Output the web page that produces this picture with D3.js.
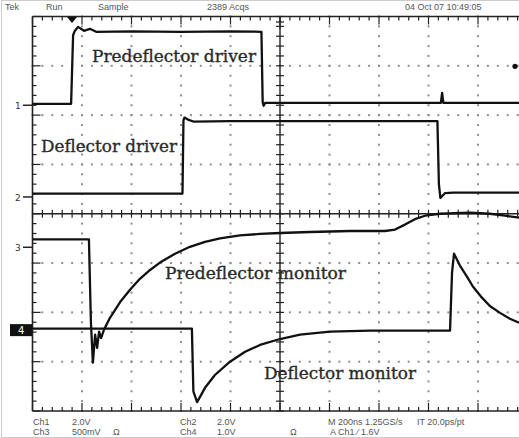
<!DOCTYPE html>
<html>
<head>
<meta charset="utf-8">
<script src="https://cdn.jsdelivr.net/npm/d3@7"></script>
<style>
  body { margin: 0; background: #fff; }
  svg { display: block; }
</style>
</head>
<body>
<svg width="519" height="438"></svg>
<script>
// time in ns (200 ns/div), level in screen divisions from centre
var ch1Time = [-1000, -844, -836, -830, -816, -792, -768, -743, -600, -400, -200, -75, -70, -66, -60, 0, 300, 650, 655, 660, 665, 966];
var ch1Level = [2.23, 2.23, 3.62, 3.70, 3.79, 3.71, 3.75, 3.69, 3.70, 3.69, 3.70, 3.69, 2.26, 2.19, 2.25, 2.25, 2.25, 2.25, 2.45, 2.25, 2.25, 2.25];

var ch2Time = [-1000, -394, -390, -386, -372, -350, -200, 0, 300, 636, 642, 648, 667, 700, 966];
var ch2Level = [0.41, 0.41, 1.90, 1.95, 1.91, 1.87, 1.88, 1.88, 1.88, 1.88, 0.60, 0.32, 0.42, 0.43, 0.43];

var ch3Time = [-1000, -772, -764, -756, -747, -739, -731, -723, -711, -687, -646, -606, -566, -525, -485, -424, -364, -303, -242, -162, -81, 0, 121, 283, 424, 465, 505, 545, 586, 646, 768, 848, 909, 966];
var ch3Level = [-0.52, -0.52, -2.20, -3.02, -2.45, -2.72, -2.39, -2.52, -2.35, -2.11, -1.79, -1.54, -1.32, -1.14, -0.99, -0.81, -0.67, -0.57, -0.50, -0.44, -0.41, -0.39, -0.37, -0.35, -0.35, -0.32, -0.22, -0.11, -0.04, 0.0, 0.02, 0.0, -0.04, -0.08];

var ch4Time = [-1000, -356, -350, -335, -303, -263, -202, -141, -81, 0, 81, 202, 364, 687, 695, 703, 727, 756, 780, 812, 848, 889, 929, 966];
var ch4Level = [-2.33, -2.33, -3.60, -3.82, -3.53, -3.27, -3.00, -2.80, -2.66, -2.54, -2.45, -2.39, -2.37, -2.37, -1.20, -0.81, -1.05, -1.28, -1.48, -1.68, -1.87, -2.01, -2.13, -2.21];

var traceNames = ["Predeflector driver", "Deflector driver", "Predeflector monitor", "Deflector monitor"];

var markerLabels = ["1", "2", "3", "4"];
var markerLevels = [2.2, 0.34, -0.68, -2.36];

var headerTexts = ["Tek", "Run", "Sample", "2389 Acqs", "04 Oct 07 10:49:05"];
var footerRow1 = ["Ch1", "2.0V", "Ch2", "2.0V", "M 200ns 1.25GS/s", "IT 20.0ps/pt"];
var footerRow2 = ["Ch3", "500mV", "\u03a9", "Ch4", "1.0V", "\u03a9", "A  Ch1  \u2215  1.6V"];

var svg = d3.select("svg");

var x = d3.scaleLinear().domain([-1000, 1000]).range([32.5, 527.5]);
var y = d3.scaleLinear().domain([-4, 4]).range([411, 16.5]);

var g = svg.append("g");

// faint outer frame
svg.append("rect").attr("x", 1.5).attr("y", 0.5).attr("width", 530).attr("height", 437)
    .attr("fill", "none").attr("stroke", "#ccc");

// dotted graticule
var majorT = d3.range(-1000, 1001, 200);
var majorV = d3.range(-4, 5, 1);
var minorT = d3.range(-1000, 1001, 40);
var minorV = d3.range(-4, 4.01, 0.2);

var dots = [];
majorT.forEach(function(t) {
    if (t === -1000 || t === 0 || t === 1000) return;
    minorV.forEach(function(v) { dots.push([t, v]); });
});
majorV.forEach(function(v) {
    if (v === -4 || v === 0 || v === 4) return;
    minorT.forEach(function(t) { dots.push([t, v]); });
});
g.selectAll("rect.dot").data(dots).enter().append("rect")
    .attr("class", "dot")
    .attr("x", function(d) { return x(d[0]) - 1; })
    .attr("y", function(d) { return y(d[1]) - 1; })
    .attr("width", 2).attr("height", 2)
    .attr("fill", "#8e8e8e");

// border and centre cross
var axisColor = "#222";
g.append("line").attr("x1", x(-1000)).attr("x2", x(1000)).attr("y1", y(4)).attr("y2", y(4))
    .attr("stroke", axisColor).attr("stroke-width", 1.6);
g.append("line").attr("x1", x(-1000)).attr("x2", x(1000)).attr("y1", y(-4)).attr("y2", y(-4))
    .attr("stroke", axisColor).attr("stroke-width", 1.6);
g.append("line").attr("x1", x(-1000)).attr("x2", x(-1000)).attr("y1", y(4)).attr("y2", y(-4))
    .attr("stroke", axisColor).attr("stroke-width", 1.6);
g.append("line").attr("x1", x(-1000)).attr("x2", x(1000)).attr("y1", y(0)).attr("y2", y(0))
    .attr("stroke", axisColor).attr("stroke-width", 1.4);
g.append("line").attr("x1", x(0)).attr("x2", x(0)).attr("y1", y(4)).attr("y2", y(-4))
    .attr("stroke", axisColor).attr("stroke-width", 1.4);

function isMajor(val, step) { return Math.abs(val / step - Math.round(val / step)) < 1e-6; }

var ticks = g.append("g").attr("stroke", axisColor).attr("stroke-width", 1.2);
minorT.forEach(function(t) {
    var len = isMajor(t, 200) ? 8 : 4;
    ticks.append("line").attr("x1", x(t)).attr("x2", x(t)).attr("y1", y(4)).attr("y2", y(4) + len);
    ticks.append("line").attr("x1", x(t)).attr("x2", x(t)).attr("y1", y(-4)).attr("y2", y(-4) - len);
    ticks.append("line").attr("x1", x(t)).attr("x2", x(t)).attr("y1", y(0) - 4).attr("y2", y(0) + 4);
});
minorV.forEach(function(v) {
    var len = isMajor(v, 1) ? 8 : 4;
    ticks.append("line").attr("x1", x(-1000)).attr("x2", x(-1000) + len).attr("y1", y(v)).attr("y2", y(v));
    ticks.append("line").attr("x1", x(0) - 4).attr("x2", x(0) + 4).attr("y1", y(v)).attr("y2", y(v));
});

// traces
var line = d3.line()
    .x(function(d) { return x(d[0]); })
    .y(function(d) { return y(d[1]); });

function pairs(ts, vs) { return ts.map(function(t, i) { return [t, vs[i]]; }); }

var traces = [pairs(ch1Time, ch1Level), pairs(ch2Time, ch2Level), pairs(ch3Time, ch3Level), pairs(ch4Time, ch4Level)];
g.selectAll("path.trace").data(traces).enter().append("path")
    .attr("class", "trace")
    .attr("d", line)
    .attr("fill", "none")
    .attr("stroke", "#111")
    .attr("stroke-width", 2.3)
    .attr("stroke-linejoin", "round");

// trace labels
var labelPos = [[92, 62, 164], [41, 152, 136], [165, 279, 181], [264, 379, 152]];
g.selectAll("text.name").data(traceNames).enter().append("text")
    .attr("class", "name")
    .attr("x", function(d, i) { return labelPos[i][0]; })
    .attr("y", function(d, i) { return labelPos[i][1]; })
    .attr("textLength", function(d, i) { return labelPos[i][2]; })
    .attr("lengthAdjust", "spacingAndGlyphs")
    .attr("font-family", "DejaVu Serif")
    .attr("font-size", 17)
    .attr("fill", "#2a2a2a")
    .attr("stroke", "#2a2a2a")
    .attr("stroke-width", 0.35)
    .text(function(d) { return d; });

// channel ground markers
markerLabels.forEach(function(m, i) {
    var yy = y(markerLevels[i]);
    if (m === "4") {
        g.append("rect").attr("x", 10).attr("y", yy - 6).attr("width", 22).attr("height", 12).attr("fill", "#111");
        g.append("text").attr("x", 18).attr("y", yy + 4).attr("font-family", "DejaVu Sans").attr("font-size", 10)
            .attr("fill", "#fff").text(m);
    } else {
        g.append("text").attr("x", 15).attr("y", yy + 4).attr("font-family", "DejaVu Sans").attr("font-size", 9)
            .attr("fill", "#333").text(m);
        g.append("line").attr("x1", 23).attr("x2", 32).attr("y1", yy).attr("y2", yy)
            .attr("stroke", "#222").attr("stroke-width", 1.5);
    }
});

// trigger position and level markers
g.append("path").attr("d", "M67,17 L77,17 L72,23 Z").attr("fill", "#111");
g.append("line").attr("x1", x(0) - 4).attr("x2", x(0) + 4).attr("y1", 22).attr("y2", 22).attr("stroke", "#333").attr("stroke-width", 1.4);
g.append("line").attr("x1", x(0)).attr("x2", x(0)).attr("y1", 17).attr("y2", 29).attr("stroke", "#333").attr("stroke-width", 1.4);
g.append("circle").attr("cx", 515).attr("cy", y(2.99)).attr("r", 2.6).attr("fill", "#111");

// header and footer readouts
var txt = { "font-family": "Liberation Sans, Arial", "font-size": 9, "fill": "#555" };
function readout(s, xx, yy) {
    var t = svg.append("text").attr("x", xx).attr("y", yy).text(s);
    Object.keys(txt).forEach(function(k) { t.attr(k, txt[k]); });
    return t;
}
var headerX = [5, 46, 98, 207, 405];
headerTexts.forEach(function(s, i) { readout(s, headerX[i], 10); });

var row1X = [33, 72, 180, 217, 328, 417];
footerRow1.forEach(function(s, i) { readout(s, row1X[i], 425); });
var row2X = [33, 72, 113, 180, 217, 290, 330];
footerRow2.forEach(function(s, i) { readout(s, row2X[i], 435); });
</script>
</body>
</html>
